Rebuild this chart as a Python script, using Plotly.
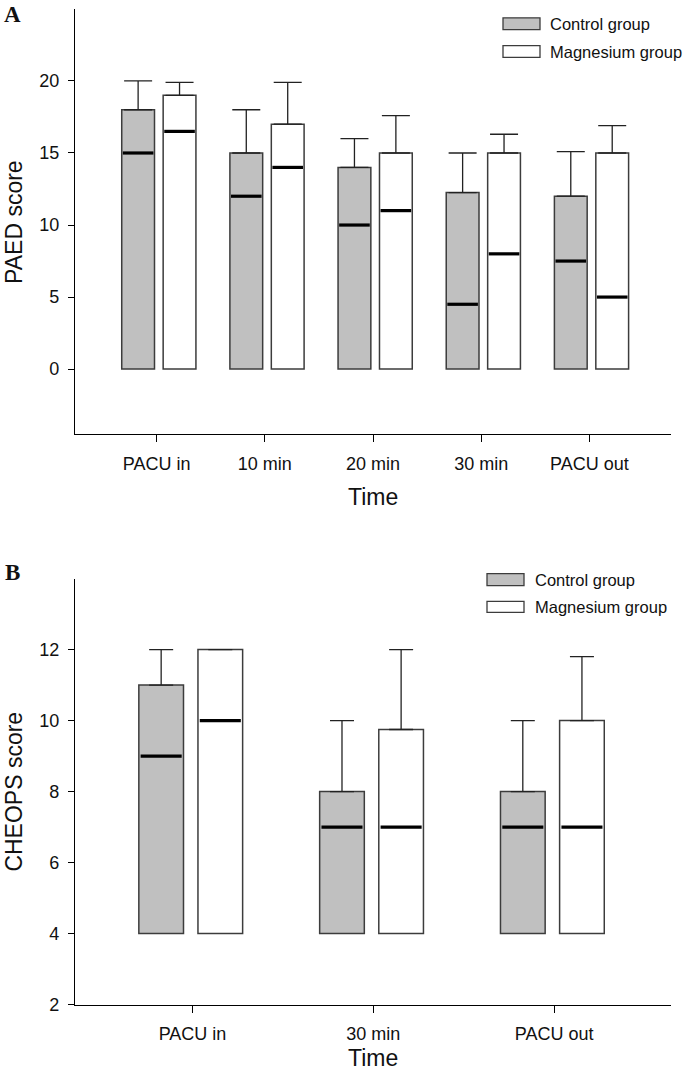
import plotly.graph_objects as go

# ---------------- data ----------------
a_times = ["PACU in", "10 min", "20 min", "30 min", "PACU out"]
a_ctrl_q3 = [18, 15, 14, 12.25, 12]
a_ctrl_med = [15, 12, 10, 4.5, 7.5]
a_ctrl_max = [20, 18, 16, 15, 15.1]
a_mag_q3 = [19, 17, 15, 15, 15]
a_mag_med = [16.5, 14, 11, 8, 5]
a_mag_max = [19.9, 19.9, 17.6, 16.3, 16.9]
a_base = 0

b_times = ["PACU in", "30 min", "PACU out"]
b_ctrl_q3 = [11, 8, 8]
b_ctrl_med = [9, 7, 7]
b_ctrl_max = [12, 10, 10]
b_mag_q3 = [12, 9.75, 10]
b_mag_med = [10, 7, 7]
b_mag_max = [12, 12, 11.8]
b_base = 4

groups = ["Control group", "Magnesium group"]

# ---------------- styling ----------------
W, H = 685, 1081
FONT = "Liberation Sans, Arial, sans-serif"
GRAY = "#c0c0c0"
EDGE = "#3c3c3c"

fig = go.Figure()


def add_panel(times, c_q3, c_med, c_max, m_q3, m_med, m_max, base,
              xa, ya, width, half_gap, shift, capw):
    idx = list(range(len(times)))
    specs = [
        (groups[0], GRAY, c_q3, c_med, c_max, -1),
        (groups[1], "white", m_q3, m_med, m_max, 1),
    ]
    for name, col, q3, med, mx, sgn in specs:
        xs = [i + sgn * half_gap + shift for i in idx]
        fig.add_trace(go.Bar(
            x=xs, y=[v - base for v in q3], base=[base] * len(q3), width=width,
            marker=dict(color=col, line=dict(color=EDGE, width=1.5)),
            name=name, showlegend=False, xaxis=xa, yaxis=ya,
        ))
        # whiskers
        fig.add_trace(go.Scatter(
            x=xs, y=q3, mode="markers", marker=dict(size=1, opacity=0),
            error_y=dict(type="data", symmetric=False,
                         array=[a - b for a, b in zip(mx, q3)],
                         arrayminus=[0] * len(q3),
                         color="#222222", thickness=1.3, width=capw),
            showlegend=False, hoverinfo="skip", xaxis=xa, yaxis=ya,
        ))
        # medians
        lx, ly = [], []
        for x, m in zip(xs, med):
            lx += [x - width / 2 + 0.01, x + width / 2 - 0.01, None]
            ly += [m, m, None]
        fig.add_trace(go.Scatter(
            x=lx, y=ly, mode="lines", line=dict(color="black", width=3.2),
            showlegend=False, hoverinfo="skip", xaxis=xa, yaxis=ya,
        ))


add_panel(a_times, a_ctrl_q3, a_ctrl_med, a_ctrl_max, a_mag_q3, a_mag_med,
          a_mag_max, a_base, "x", "y", 0.303, 0.1915, 0.02, 14)
add_panel(b_times, b_ctrl_q3, b_ctrl_med, b_ctrl_max, b_mag_q3, b_mag_med,
          b_mag_max, b_base, "x2", "y2", 0.247, 0.1635, -0.01, 12)


def py(p):
    return 1 - p / H


def px(p):
    return p / W


axis_common = dict(showline=True, linecolor="black", linewidth=1.3,
                   showgrid=False, zeroline=False, ticks="outside",
                   tickcolor="black", tickwidth=1.2,
                   tickfont=dict(family=FONT, size=18, color="#111111"))

xdom = [px(75), px(671)]
fig.update_layout(
    width=W, height=H,
    margin=dict(l=0, r=0, t=0, b=0),
    paper_bgcolor="white", plot_bgcolor="white",
    showlegend=False,
    xaxis=dict(domain=xdom, anchor="y", range=[-0.755, 4.755],
               tickvals=list(range(len(a_times))), ticktext=a_times,
               ticklen=7, ticklabelstandoff=6, **axis_common),
    yaxis=dict(domain=[py(438), py(9)], anchor="x", range=[-4.5, 25],
               tickvals=[0, 5, 10, 15, 20], ticklen=6,
               ticklabelstandoff=5, **axis_common),
    xaxis2=dict(domain=xdom, anchor="y2", range=[-0.65, 2.646],
                tickvals=list(range(len(b_times))), ticktext=b_times,
                ticklen=7, ticklabelstandoff=6, **axis_common),
    yaxis2=dict(domain=[py(1014), py(584)], anchor="x2", range=[2, 14],
                tickvals=[2, 4, 6, 8, 10, 12], ticklen=6,
                ticklabelstandoff=5, **axis_common),
)

ann = []
title_font = dict(family=FONT, size=23, color="#111111")
ann.append(dict(text="PAED score", x=px(14), y=py(224), textangle=-90,
                font=title_font))
ann.append(dict(text="CHEOPS score", x=px(14), y=py(799), textangle=-90,
                font=title_font))
ann.append(dict(text="Time", x=px(373), y=py(502), font=title_font))
ann.append(dict(text="Time", x=px(373), y=py(1068), font=title_font))
panel_font = dict(family="Liberation Serif, Times New Roman, serif", size=23,
                  color="#111111")
ann.append(dict(text="<b>A</b>", x=px(12), y=py(15), font=panel_font))
ann.append(dict(text="<b>B</b>", x=px(12), y=py(578), font=panel_font))

# custom legends
leg_font = dict(family=FONT, size=16.5, color="#111111")
shapes = []
for (bx0, bx1, tx, rows) in [
    (503, 540, 548, [(18, 30), (46, 58)]),
    (487, 524, 533, [(579, 591), (607, 618)]),
]:
    for (y0, y1), name, col in zip(rows, groups, [GRAY, "white"]):
        shapes.append(dict(type="rect", xref="paper", yref="paper",
                           x0=px(bx0), x1=px(bx1), y0=py(y1), y1=py(y0),
                           fillcolor=col, line=dict(color=EDGE, width=1.3)))
        ann.append(dict(text=name, x=px(tx), y=py((y0 + y1) / 2),
                        xanchor="left", font=leg_font))

for a in ann:
    a.setdefault("xref", "paper")
    a.setdefault("yref", "paper")
    a.setdefault("showarrow", False)
    a.setdefault("xanchor", "center")
    a.setdefault("yanchor", "middle")

fig.update_layout(annotations=ann, shapes=shapes)
# remove the default 8px page margin so the figure fills the window exactly
fig.write_html(
    "out.html",
    config={"displayModeBar": False},
    post_script="document.body.style.margin='0';"
                "document.body.style.overflow='hidden';",
)
